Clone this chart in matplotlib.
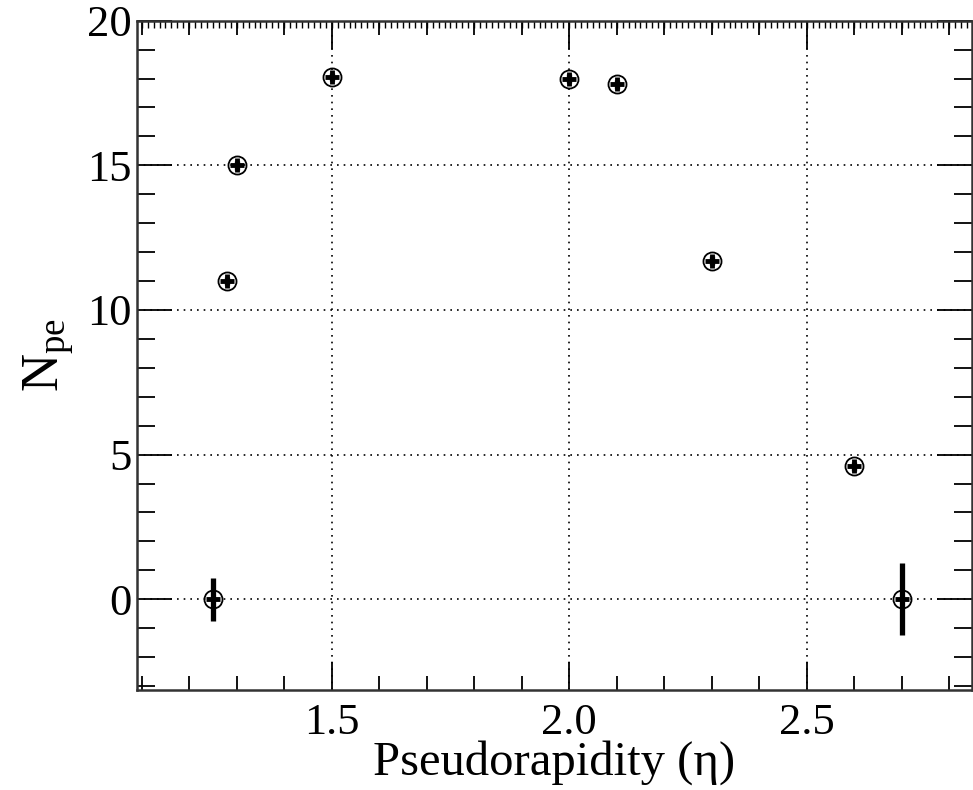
import matplotlib
matplotlib.use("Agg")
import matplotlib.pyplot as plt
import numpy as np
from matplotlib.ticker import MultipleLocator, FixedLocator

eta = [1.25, 1.28, 1.30, 1.50, 2.00, 2.10, 2.30, 2.60, 2.70]
npe = [0.0, 11.0, 15.0, 18.05, 18.0, 17.8, 11.7, 4.6, 0.0]
npe_err = [0.75, 0.15, 0.15, 0.15, 0.15, 0.15, 0.15, 0.15, 1.25]

plt.rcParams['font.family'] = ['Liberation Serif', 'DejaVu Serif']
plt.rcParams['mathtext.fontset'] = 'custom'
plt.rcParams['mathtext.rm'] = 'Liberation Serif'
plt.rcParams['mathtext.it'] = 'Liberation Serif'

fig = plt.figure(figsize=(9.73, 7.90), dpi=100)
ax = fig.add_axes([137/973, 1-689.5/790, (972-137)/973, (689.5-20.7)/790])

ax.set_xlim(1.09, 2.848)
ax.set_ylim(-3.12, 20)

ax.errorbar(eta, npe, yerr=npe_err, fmt='none', ecolor='black', elinewidth=3.8, capsize=0, zorder=3)
ax.plot(eta, npe, linestyle='none', marker='o', ms=13, mfc='none', mec='black', mew=1.3, zorder=4)
ax.plot(eta, npe, linestyle='none', marker='+', ms=10, mec='black', mew=3.5, zorder=5)

ax.xaxis.set_major_locator(FixedLocator([1.5, 2.0, 2.5]))
ax.xaxis.set_minor_locator(MultipleLocator(0.1))
ax.yaxis.set_major_locator(MultipleLocator(5))
ax.yaxis.set_minor_locator(MultipleLocator(1))
ax.set_xticklabels(['1.5', '2.0', '2.5'])

ax.tick_params(axis='x', which='major', direction='in', length=20, width=1.3, labelsize=32, pad=9.5, top=True)
ax.tick_params(axis='x', which='minor', direction='in', length=10, width=1.3, top=True)
ax.tick_params(axis='y', which='major', direction='in', length=25, width=1.3, labelsize=32, pad=4, right=True)
ax.tick_params(axis='y', which='minor', direction='in', length=13, width=1.3, right=True)

# extra fine ticks on top
sec = ax.secondary_xaxis('top')
sec.xaxis.set_major_locator(MultipleLocator(0.1/8))
sec.tick_params(axis='x', which='major', direction='in', length=5, width=1.0, labeltop=False)
sec.spines['top'].set_visible(False)

ax.grid(True, which='major', linestyle=(0, (1, 3)), color='black', linewidth=1.2)

for s in ax.spines.values():
    s.set_linewidth(1.8)
    s.set_color('#333333')

ax.set_xlabel('Pseudorapidity (η)', fontsize=35, labelpad=-2)
ax.set_ylabel(r'$\mathrm{N_{pe}}$', fontsize=38, labelpad=8)

fig.savefig('out.png', dpi=100)
